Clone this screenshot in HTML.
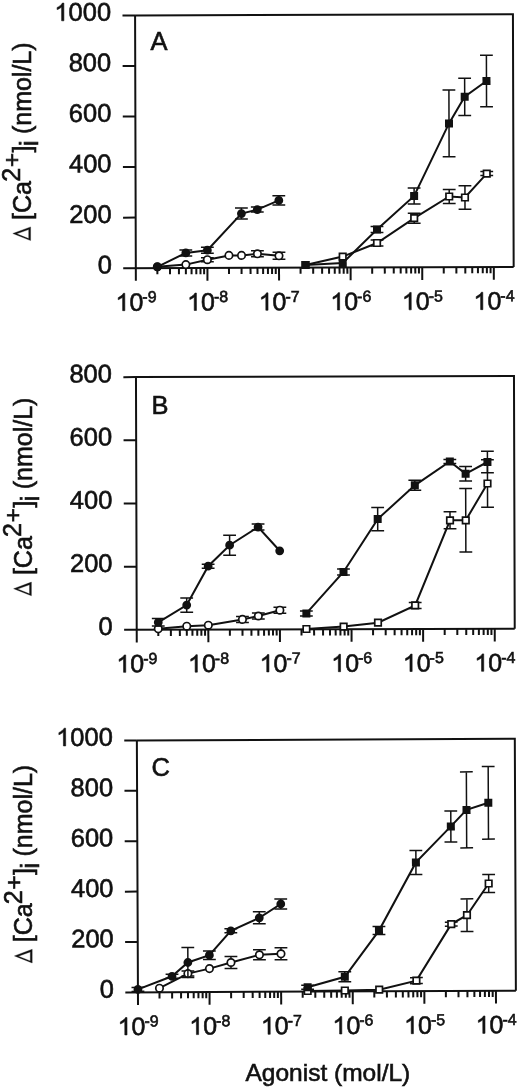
<!DOCTYPE html>
<html><head><meta charset="utf-8"><style>
html,body{margin:0;padding:0;background:#fff;}
svg{display:block;will-change:transform;}
text{font-family:"Liberation Sans",sans-serif;fill:#111;stroke:#111;stroke-width:0.6px;}
.ax path{stroke:#111;stroke-width:2.0;fill:none;}
.ln{stroke:#111;stroke-width:2.0;fill:none;}
.eb{stroke:#111;stroke-width:1.5;fill:none;}
.fm{fill:#111;stroke:none;}
.g1{fill:#111;stroke:#111;}
.om{fill:#fff;stroke:#111;stroke-width:1.7;}
</style></head><body>
<svg width="520" height="1090" viewBox="0 0 520 1090">
<rect width="520" height="1090" fill="#fff"/>
<g transform="rotate(-0.1662 324.38 141.22)">
<g class="ax"><path d="M135.45 14.85H513.3V267.6M135.45 14.85V280.3" /><path d="M122.85 267.6H513.3" /><path d="M122.85 217.05H135.45" /><path d="M122.85 166.5H135.45" /><path d="M122.85 115.95H135.45" /><path d="M122.85 65.4H135.45" /><path d="M122.85 14.85H135.45" /><path d="M157 267.6V273.8" /><path d="M169.61 267.6V273.8" /><path d="M178.56 267.6V273.8" /><path d="M185.5 267.6V273.8" /><path d="M191.17 267.6V273.8" /><path d="M195.96 267.6V273.8" /><path d="M200.11 267.6V273.8" /><path d="M203.77 267.6V273.8" /><path d="M207.05 267.6V280.3" /><path d="M228.6 267.6V273.8" /><path d="M241.21 267.6V273.8" /><path d="M250.16 267.6V273.8" /><path d="M257.1 267.6V273.8" /><path d="M262.77 267.6V273.8" /><path d="M267.56 267.6V273.8" /><path d="M271.71 267.6V273.8" /><path d="M275.37 267.6V273.8" /><path d="M278.65 267.6V280.3" /><path d="M300.2 267.6V273.8" /><path d="M312.81 267.6V273.8" /><path d="M321.76 267.6V273.8" /><path d="M328.7 267.6V273.8" /><path d="M334.37 267.6V273.8" /><path d="M339.16 267.6V273.8" /><path d="M343.31 267.6V273.8" /><path d="M346.97 267.6V273.8" /><path d="M350.25 267.6V280.3" /><path d="M371.8 267.6V273.8" /><path d="M384.41 267.6V273.8" /><path d="M393.36 267.6V273.8" /><path d="M400.3 267.6V273.8" /><path d="M405.97 267.6V273.8" /><path d="M410.76 267.6V273.8" /><path d="M414.91 267.6V273.8" /><path d="M418.57 267.6V273.8" /><path d="M421.85 267.6V280.3" /><path d="M443.4 267.6V273.8" /><path d="M456.01 267.6V273.8" /><path d="M464.96 267.6V273.8" /><path d="M471.9 267.6V273.8" /><path d="M477.57 267.6V273.8" /><path d="M482.36 267.6V273.8" /><path d="M486.51 267.6V273.8" /><path d="M490.17 267.6V273.8" /><path d="M493.45 267.6V280.3" /></g>
<g class="tx"><text x="111.45" y="272.8" text-anchor="end" font-size="25.5">0</text><text x="111.45" y="222.25" text-anchor="end" font-size="25.5">200</text><text x="111.45" y="171.7" text-anchor="end" font-size="25.5">400</text><text x="111.45" y="121.15" text-anchor="end" font-size="25.5">600</text><text x="111.45" y="70.6" text-anchor="end" font-size="25.5">800</text><path d="M763 0L583 0L583 1147Q518 1085 412 1023Q306 961 222 930L222 1104Q373 1175 486 1276Q599 1377 646 1472L763 1472Z" transform="translate(54.74 20.05) scale(0.01245 -0.01205)" class="g1" style="stroke-width:48.2"/><text x="68.92" y="20.05" font-size="25.5">000</text><path d="M763 0L583 0L583 1147Q518 1085 412 1023Q306 961 222 930L222 1104Q373 1175 486 1276Q599 1377 646 1472L763 1472Z" transform="translate(115.04 310.1) scale(0.01221 -0.01182)" class="g1" style="stroke-width:49.2"/><text x="128.94" y="310.1" font-size="25">0<tspan dx="-1" dy="-8.3" font-size="16">-9</tspan></text><path d="M763 0L583 0L583 1147Q518 1085 412 1023Q306 961 222 930L222 1104Q373 1175 486 1276Q599 1377 646 1472L763 1472Z" transform="translate(186.64 310.1) scale(0.01221 -0.01182)" class="g1" style="stroke-width:49.2"/><text x="200.54" y="310.1" font-size="25">0<tspan dx="-1" dy="-8.3" font-size="16">-8</tspan></text><path d="M763 0L583 0L583 1147Q518 1085 412 1023Q306 961 222 930L222 1104Q373 1175 486 1276Q599 1377 646 1472L763 1472Z" transform="translate(258.24 310.1) scale(0.01221 -0.01182)" class="g1" style="stroke-width:49.2"/><text x="272.14" y="310.1" font-size="25">0<tspan dx="-1" dy="-8.3" font-size="16">-7</tspan></text><path d="M763 0L583 0L583 1147Q518 1085 412 1023Q306 961 222 930L222 1104Q373 1175 486 1276Q599 1377 646 1472L763 1472Z" transform="translate(329.84 310.1) scale(0.01221 -0.01182)" class="g1" style="stroke-width:49.2"/><text x="343.74" y="310.1" font-size="25">0<tspan dx="-1" dy="-8.3" font-size="16">-6</tspan></text><path d="M763 0L583 0L583 1147Q518 1085 412 1023Q306 961 222 930L222 1104Q373 1175 486 1276Q599 1377 646 1472L763 1472Z" transform="translate(401.44 310.1) scale(0.01221 -0.01182)" class="g1" style="stroke-width:49.2"/><text x="415.34" y="310.1" font-size="25">0<tspan dx="-1" dy="-8.3" font-size="16">-5</tspan></text><path d="M763 0L583 0L583 1147Q518 1085 412 1023Q306 961 222 930L222 1104Q373 1175 486 1276Q599 1377 646 1472L763 1472Z" transform="translate(473.04 310.1) scale(0.01221 -0.01182)" class="g1" style="stroke-width:49.2"/><text x="486.94" y="310.1" font-size="25">0<tspan dx="-1" dy="-8.3" font-size="16">-4</tspan></text></g>
<g><path d="M157 266.31 L185.5 252.5 L207.05 249.86 L241.2 213.36 L257.1 209.4 L278.65 200.27" class="ln"/><path d="M157 266.31 L185.5 264.2 L207.05 259.36 L228.6 255.12 L241.2 255.16 L257.1 253.6 L278.65 255.67" class="ln"/><path d="M305.14 264.94 L342.37 263.05 L376.74 229.65 L413.97 196.16 L449.06 123.76 L464.81 97.21 L486.65 81.47" class="ln"/><path d="M305.14 264.94 L342.37 256.65 L376.74 243.15 L413.97 218.46 L449.06 196.86 L464.81 197.91 L486.65 174.07" class="ln"/><path d="M207.05 257.36V261.36M200.65 257.36h12.8M200.65 261.36h12.8" class="eb"/><path d="M257.1 250.6V256.6M250.7 250.6h12.8M250.7 256.6h12.8" class="eb"/><path d="M278.65 252.17V259.17M272.25 252.17h12.8M272.25 259.17h12.8" class="eb"/><circle cx="157" cy="266.31" r="3.7" class="om"/><circle cx="185.5" cy="264.2" r="3.7" class="om"/><circle cx="207.05" cy="259.36" r="3.7" class="om"/><circle cx="228.6" cy="255.12" r="3.7" class="om"/><circle cx="241.2" cy="255.16" r="3.7" class="om"/><circle cx="257.1" cy="253.6" r="3.7" class="om"/><circle cx="278.65" cy="255.67" r="3.7" class="om"/><path d="M376.74 240.15V246.15M370.34 240.15h12.8M370.34 246.15h12.8" class="eb"/><path d="M413.97 213.46V223.46M407.57 213.46h12.8M407.57 223.46h12.8" class="eb"/><path d="M449.06 189.96V203.76M442.66 189.96h12.8M442.66 203.76h12.8" class="eb"/><path d="M464.81 186.21V209.61M458.41 186.21h12.8M458.41 209.61h12.8" class="eb"/><path d="M486.65 172.07V176.07M480.25 172.07h12.8M480.25 176.07h12.8" class="eb"/><rect x="301.89" y="261.69" width="6.5" height="6.5" class="om"/><rect x="339.12" y="253.4" width="6.5" height="6.5" class="om"/><rect x="373.49" y="239.9" width="6.5" height="6.5" class="om"/><rect x="410.72" y="215.21" width="6.5" height="6.5" class="om"/><rect x="445.81" y="193.61" width="6.5" height="6.5" class="om"/><rect x="461.56" y="194.66" width="6.5" height="6.5" class="om"/><rect x="483.4" y="170.82" width="6.5" height="6.5" class="om"/><path d="M185.5 249.5V255.5M179.1 249.5h12.8M179.1 255.5h12.8" class="eb"/><path d="M207.05 246.86V252.86M200.65 246.86h12.8M200.65 252.86h12.8" class="eb"/><path d="M241.2 207.86V218.86M234.8 207.86h12.8M234.8 218.86h12.8" class="eb"/><path d="M257.1 206.9V211.9M250.7 206.9h12.8M250.7 211.9h12.8" class="eb"/><path d="M278.65 195.57V204.97M272.25 195.57h12.8M272.25 204.97h12.8" class="eb"/><circle cx="157" cy="266.31" r="4.4" class="fm"/><circle cx="185.5" cy="252.5" r="4.4" class="fm"/><circle cx="207.05" cy="249.86" r="4.4" class="fm"/><circle cx="241.2" cy="213.36" r="4.4" class="fm"/><circle cx="257.1" cy="209.4" r="4.4" class="fm"/><circle cx="278.65" cy="200.27" r="4.4" class="fm"/><path d="M376.74 226.65V232.65M370.34 226.65h12.8M370.34 232.65h12.8" class="eb"/><path d="M413.97 188.16V204.16M407.57 188.16h12.8M407.57 204.16h12.8" class="eb"/><path d="M449.06 90.36V157.16M442.66 90.36h12.8M442.66 157.16h12.8" class="eb"/><path d="M464.81 78.61V115.81M458.41 78.61h12.8M458.41 115.81h12.8" class="eb"/><path d="M486.65 55.62V107.32M480.25 55.62h12.8M480.25 107.32h12.8" class="eb"/><rect x="301.14" y="260.94" width="8" height="8" class="fm"/><rect x="338.37" y="259.05" width="8" height="8" class="fm"/><rect x="372.74" y="225.65" width="8" height="8" class="fm"/><rect x="409.97" y="192.16" width="8" height="8" class="fm"/><rect x="445.06" y="119.76" width="8" height="8" class="fm"/><rect x="460.81" y="93.21" width="8" height="8" class="fm"/><rect x="482.65" y="77.47" width="8" height="8" class="fm"/></g>
</g>
<g class="tx"><text x="150.4" y="50.4" font-size="25.5">A</text><text transform="rotate(-90)" y="30.8" font-size="25"><tspan x="-219.9">[Ca</tspan><tspan x="-181.8" y="20.2">2</tspan><tspan x="-167" y="20.2" font-size="24">+</tspan><tspan x="-152.5" y="30.8">]</tspan><tspan x="-146" y="37.8">i</tspan><tspan x="-134.1" y="30.8">(nmol/L)</tspan></text><path transform="translate(0 0)" fill-rule="evenodd" class="g1" style="stroke-width:0.3" d="M12.8 233.5L30.6 226.9L30.6 240.6ZM16.8 233.85L28.7 238.55L28.7 229.55Z"/></g>
<g transform="rotate(-0.1719 325.35 502.9)">
<g class="ax"><path d="M136.35 376.55H514.35V629.25M136.35 376.55V641.95" /><path d="M123.75 629.25H514.35" /><path d="M123.75 566.08H136.35" /><path d="M123.75 502.9H136.35" /><path d="M123.75 439.73H136.35" /><path d="M123.75 376.55H136.35" /><path d="M157.9 629.25V635.45" /><path d="M170.51 629.25V635.45" /><path d="M179.46 629.25V635.45" /><path d="M186.4 629.25V635.45" /><path d="M192.07 629.25V635.45" /><path d="M196.86 629.25V635.45" /><path d="M201.01 629.25V635.45" /><path d="M204.67 629.25V635.45" /><path d="M207.95 629.25V641.95" /><path d="M229.5 629.25V635.45" /><path d="M242.11 629.25V635.45" /><path d="M251.06 629.25V635.45" /><path d="M258 629.25V635.45" /><path d="M263.67 629.25V635.45" /><path d="M268.46 629.25V635.45" /><path d="M272.61 629.25V635.45" /><path d="M276.27 629.25V635.45" /><path d="M279.55 629.25V641.95" /><path d="M301.1 629.25V635.45" /><path d="M313.71 629.25V635.45" /><path d="M322.66 629.25V635.45" /><path d="M329.6 629.25V635.45" /><path d="M335.27 629.25V635.45" /><path d="M340.06 629.25V635.45" /><path d="M344.21 629.25V635.45" /><path d="M347.87 629.25V635.45" /><path d="M351.15 629.25V641.95" /><path d="M372.7 629.25V635.45" /><path d="M385.31 629.25V635.45" /><path d="M394.26 629.25V635.45" /><path d="M401.2 629.25V635.45" /><path d="M406.87 629.25V635.45" /><path d="M411.66 629.25V635.45" /><path d="M415.81 629.25V635.45" /><path d="M419.47 629.25V635.45" /><path d="M422.75 629.25V641.95" /><path d="M444.3 629.25V635.45" /><path d="M456.91 629.25V635.45" /><path d="M465.86 629.25V635.45" /><path d="M472.8 629.25V635.45" /><path d="M478.47 629.25V635.45" /><path d="M483.26 629.25V635.45" /><path d="M487.41 629.25V635.45" /><path d="M491.07 629.25V635.45" /><path d="M494.35 629.25V641.95" /></g>
<g class="tx"><text x="112.35" y="634.45" text-anchor="end" font-size="25.5">0</text><text x="112.35" y="571.28" text-anchor="end" font-size="25.5">200</text><text x="112.35" y="508.1" text-anchor="end" font-size="25.5">400</text><text x="112.35" y="444.93" text-anchor="end" font-size="25.5">600</text><text x="112.35" y="381.75" text-anchor="end" font-size="25.5">800</text><path d="M763 0L583 0L583 1147Q518 1085 412 1023Q306 961 222 930L222 1104Q373 1175 486 1276Q599 1377 646 1472L763 1472Z" transform="translate(115.94 671.75) scale(0.01221 -0.01182)" class="g1" style="stroke-width:49.2"/><text x="129.84" y="671.75" font-size="25">0<tspan dx="-1" dy="-8.3" font-size="16">-9</tspan></text><path d="M763 0L583 0L583 1147Q518 1085 412 1023Q306 961 222 930L222 1104Q373 1175 486 1276Q599 1377 646 1472L763 1472Z" transform="translate(187.54 671.75) scale(0.01221 -0.01182)" class="g1" style="stroke-width:49.2"/><text x="201.44" y="671.75" font-size="25">0<tspan dx="-1" dy="-8.3" font-size="16">-8</tspan></text><path d="M763 0L583 0L583 1147Q518 1085 412 1023Q306 961 222 930L222 1104Q373 1175 486 1276Q599 1377 646 1472L763 1472Z" transform="translate(259.14 671.75) scale(0.01221 -0.01182)" class="g1" style="stroke-width:49.2"/><text x="273.04" y="671.75" font-size="25">0<tspan dx="-1" dy="-8.3" font-size="16">-7</tspan></text><path d="M763 0L583 0L583 1147Q518 1085 412 1023Q306 961 222 930L222 1104Q373 1175 486 1276Q599 1377 646 1472L763 1472Z" transform="translate(330.74 671.75) scale(0.01221 -0.01182)" class="g1" style="stroke-width:49.2"/><text x="344.64" y="671.75" font-size="25">0<tspan dx="-1" dy="-8.3" font-size="16">-6</tspan></text><path d="M763 0L583 0L583 1147Q518 1085 412 1023Q306 961 222 930L222 1104Q373 1175 486 1276Q599 1377 646 1472L763 1472Z" transform="translate(402.34 671.75) scale(0.01221 -0.01182)" class="g1" style="stroke-width:49.2"/><text x="416.24" y="671.75" font-size="25">0<tspan dx="-1" dy="-8.3" font-size="16">-5</tspan></text><path d="M763 0L583 0L583 1147Q518 1085 412 1023Q306 961 222 930L222 1104Q373 1175 486 1276Q599 1377 646 1472L763 1472Z" transform="translate(473.94 671.75) scale(0.01221 -0.01182)" class="g1" style="stroke-width:49.2"/><text x="487.84" y="671.75" font-size="25">0<tspan dx="-1" dy="-8.3" font-size="16">-4</tspan></text></g>
<g><path d="M157.9 621.8 L186.4 604.68 L207.95 565.85 L229.5 544.91 L258 526.9 L279.55 550.66" class="ln"/><path d="M157.9 628.3 L186.4 625.78 L207.95 624.85 L242.1 619.15 L258 615.8 L279.55 610.06" class="ln"/><path d="M306.04 613.34 L343.27 572.05 L377.64 519.26 L414.87 485.57 L449.96 461.87 L465.71 474.22 L487.55 462.49" class="ln"/><path d="M306.04 628.94 L343.27 626.65 L377.64 622.86 L414.87 605.67 L449.96 520.67 L465.71 520.72 L487.55 483.99" class="ln"/><path d="M242.1 616.15V622.15M235.7 616.15h12.8M235.7 622.15h12.8" class="eb"/><path d="M258 612.8V618.8M251.6 612.8h12.8M251.6 618.8h12.8" class="eb"/><path d="M279.55 607.06V613.06M273.15 607.06h12.8M273.15 613.06h12.8" class="eb"/><circle cx="157.9" cy="628.3" r="3.7" class="om"/><circle cx="186.4" cy="625.78" r="3.7" class="om"/><circle cx="207.95" cy="624.85" r="3.7" class="om"/><circle cx="242.1" cy="619.15" r="3.7" class="om"/><circle cx="258" cy="615.8" r="3.7" class="om"/><circle cx="279.55" cy="610.06" r="3.7" class="om"/><path d="M414.87 602.67V608.67M408.47 602.67h12.8M408.47 608.67h12.8" class="eb"/><path d="M449.96 512.17V529.17M443.56 512.17h12.8M443.56 529.17h12.8" class="eb"/><path d="M465.71 488.92V552.52M459.31 488.92h12.8M459.31 552.52h12.8" class="eb"/><path d="M487.55 460.29V507.69M481.15 460.29h12.8M481.15 507.69h12.8" class="eb"/><rect x="302.79" y="625.69" width="6.5" height="6.5" class="om"/><rect x="340.02" y="623.4" width="6.5" height="6.5" class="om"/><rect x="374.39" y="619.61" width="6.5" height="6.5" class="om"/><rect x="411.62" y="602.42" width="6.5" height="6.5" class="om"/><rect x="446.71" y="517.42" width="6.5" height="6.5" class="om"/><rect x="462.46" y="517.47" width="6.5" height="6.5" class="om"/><rect x="484.3" y="480.74" width="6.5" height="6.5" class="om"/><path d="M157.9 618V625.6M151.5 618h12.8M151.5 625.6h12.8" class="eb"/><path d="M186.4 597.48V611.88M180 597.48h12.8M180 611.88h12.8" class="eb"/><path d="M207.95 563.85V567.85M201.55 563.85h12.8M201.55 567.85h12.8" class="eb"/><path d="M229.5 534.91V554.91M223.1 534.91h12.8M223.1 554.91h12.8" class="eb"/><path d="M258 523.9V529.9M251.6 523.9h12.8M251.6 529.9h12.8" class="eb"/><circle cx="157.9" cy="621.8" r="4.4" class="fm"/><circle cx="186.4" cy="604.68" r="4.4" class="fm"/><circle cx="207.95" cy="565.85" r="4.4" class="fm"/><circle cx="229.5" cy="544.91" r="4.4" class="fm"/><circle cx="258" cy="526.9" r="4.4" class="fm"/><circle cx="279.55" cy="550.66" r="4.4" class="fm"/><path d="M306.04 610.84V615.84M299.64 610.84h12.8M299.64 615.84h12.8" class="eb"/><path d="M343.27 569.05V575.05M336.87 569.05h12.8M336.87 575.05h12.8" class="eb"/><path d="M377.64 507.56V530.96M371.24 507.56h12.8M371.24 530.96h12.8" class="eb"/><path d="M414.87 480.57V490.57M408.47 480.57h12.8M408.47 490.57h12.8" class="eb"/><path d="M449.96 459.87V463.87M443.56 459.87h12.8M443.56 463.87h12.8" class="eb"/><path d="M465.71 466.92V481.52M459.31 466.92h12.8M459.31 481.52h12.8" class="eb"/><path d="M487.55 451.69V473.29M481.15 451.69h12.8M481.15 473.29h12.8" class="eb"/><rect x="302.04" y="609.34" width="8" height="8" class="fm"/><rect x="339.27" y="568.05" width="8" height="8" class="fm"/><rect x="373.64" y="515.26" width="8" height="8" class="fm"/><rect x="410.87" y="481.57" width="8" height="8" class="fm"/><rect x="445.96" y="457.87" width="8" height="8" class="fm"/><rect x="461.71" y="470.22" width="8" height="8" class="fm"/><rect x="483.55" y="458.49" width="8" height="8" class="fm"/></g>
</g>
<g class="tx"><text x="151.5" y="413.5" font-size="25.5">B</text><text transform="rotate(-90)" y="31.6" font-size="25"><tspan x="-575.1">[Ca</tspan><tspan x="-537" y="21">2</tspan><tspan x="-522.2" y="21" font-size="24">+</tspan><tspan x="-507.7" y="31.6">]</tspan><tspan x="-501.2" y="38.6">i</tspan><tspan x="-489.3" y="31.6">(nmol/L)</tspan></text><path transform="translate(0.8 355.2)" fill-rule="evenodd" class="g1" style="stroke-width:0.3" d="M12.8 233.5L30.6 226.9L30.6 240.6ZM16.8 233.85L28.7 238.55L28.7 229.55Z"/></g>
<g transform="rotate(-0.2464 326.38 865.58)">
<g class="ax"><path d="M137.4 739.6H515.35V991.55M137.4 739.6V1004.25" /><path d="M124.8 991.55H515.35" /><path d="M124.8 941.16H137.4" /><path d="M124.8 890.77H137.4" /><path d="M124.8 840.38H137.4" /><path d="M124.8 789.99H137.4" /><path d="M124.8 739.6H137.4" /><path d="M158.95 991.55V997.75" /><path d="M171.56 991.55V997.75" /><path d="M180.51 991.55V997.75" /><path d="M187.45 991.55V997.75" /><path d="M193.12 991.55V997.75" /><path d="M197.91 991.55V997.75" /><path d="M202.06 991.55V997.75" /><path d="M205.72 991.55V997.75" /><path d="M209 991.55V1004.25" /><path d="M230.55 991.55V997.75" /><path d="M243.16 991.55V997.75" /><path d="M252.11 991.55V997.75" /><path d="M259.05 991.55V997.75" /><path d="M264.72 991.55V997.75" /><path d="M269.51 991.55V997.75" /><path d="M273.66 991.55V997.75" /><path d="M277.32 991.55V997.75" /><path d="M280.6 991.55V1004.25" /><path d="M302.15 991.55V997.75" /><path d="M314.76 991.55V997.75" /><path d="M323.71 991.55V997.75" /><path d="M330.65 991.55V997.75" /><path d="M336.32 991.55V997.75" /><path d="M341.11 991.55V997.75" /><path d="M345.26 991.55V997.75" /><path d="M348.92 991.55V997.75" /><path d="M352.2 991.55V1004.25" /><path d="M373.75 991.55V997.75" /><path d="M386.36 991.55V997.75" /><path d="M395.31 991.55V997.75" /><path d="M402.25 991.55V997.75" /><path d="M407.92 991.55V997.75" /><path d="M412.71 991.55V997.75" /><path d="M416.86 991.55V997.75" /><path d="M420.52 991.55V997.75" /><path d="M423.8 991.55V1004.25" /><path d="M445.35 991.55V997.75" /><path d="M457.96 991.55V997.75" /><path d="M466.91 991.55V997.75" /><path d="M473.85 991.55V997.75" /><path d="M479.52 991.55V997.75" /><path d="M484.31 991.55V997.75" /><path d="M488.46 991.55V997.75" /><path d="M492.12 991.55V997.75" /><path d="M495.4 991.55V1004.25" /></g>
<g class="tx"><text x="113.4" y="996.75" text-anchor="end" font-size="25.5">0</text><text x="113.4" y="946.36" text-anchor="end" font-size="25.5">200</text><text x="113.4" y="895.97" text-anchor="end" font-size="25.5">400</text><text x="113.4" y="845.58" text-anchor="end" font-size="25.5">600</text><text x="113.4" y="795.19" text-anchor="end" font-size="25.5">800</text><path d="M763 0L583 0L583 1147Q518 1085 412 1023Q306 961 222 930L222 1104Q373 1175 486 1276Q599 1377 646 1472L763 1472Z" transform="translate(56.69 744.8) scale(0.01245 -0.01205)" class="g1" style="stroke-width:48.2"/><text x="70.87" y="744.8" font-size="25.5">000</text><path d="M763 0L583 0L583 1147Q518 1085 412 1023Q306 961 222 930L222 1104Q373 1175 486 1276Q599 1377 646 1472L763 1472Z" transform="translate(116.99 1034.05) scale(0.01221 -0.01182)" class="g1" style="stroke-width:49.2"/><text x="130.89" y="1034.05" font-size="25">0<tspan dx="-1" dy="-8.3" font-size="16">-9</tspan></text><path d="M763 0L583 0L583 1147Q518 1085 412 1023Q306 961 222 930L222 1104Q373 1175 486 1276Q599 1377 646 1472L763 1472Z" transform="translate(188.59 1034.05) scale(0.01221 -0.01182)" class="g1" style="stroke-width:49.2"/><text x="202.49" y="1034.05" font-size="25">0<tspan dx="-1" dy="-8.3" font-size="16">-8</tspan></text><path d="M763 0L583 0L583 1147Q518 1085 412 1023Q306 961 222 930L222 1104Q373 1175 486 1276Q599 1377 646 1472L763 1472Z" transform="translate(260.19 1034.05) scale(0.01221 -0.01182)" class="g1" style="stroke-width:49.2"/><text x="274.09" y="1034.05" font-size="25">0<tspan dx="-1" dy="-8.3" font-size="16">-7</tspan></text><path d="M763 0L583 0L583 1147Q518 1085 412 1023Q306 961 222 930L222 1104Q373 1175 486 1276Q599 1377 646 1472L763 1472Z" transform="translate(331.79 1034.05) scale(0.01221 -0.01182)" class="g1" style="stroke-width:49.2"/><text x="345.69" y="1034.05" font-size="25">0<tspan dx="-1" dy="-8.3" font-size="16">-6</tspan></text><path d="M763 0L583 0L583 1147Q518 1085 412 1023Q306 961 222 930L222 1104Q373 1175 486 1276Q599 1377 646 1472L763 1472Z" transform="translate(403.39 1034.05) scale(0.01221 -0.01182)" class="g1" style="stroke-width:49.2"/><text x="417.29" y="1034.05" font-size="25">0<tspan dx="-1" dy="-8.3" font-size="16">-5</tspan></text><path d="M763 0L583 0L583 1147Q518 1085 412 1023Q306 961 222 930L222 1104Q373 1175 486 1276Q599 1377 646 1472L763 1472Z" transform="translate(474.99 1034.05) scale(0.01221 -0.01182)" class="g1" style="stroke-width:49.2"/><text x="488.89" y="1034.05" font-size="25">0<tspan dx="-1" dy="-8.3" font-size="16">-4</tspan></text></g>
<g><path d="M137.4 988.59 L171.55 975.63 L187.45 961.9 L209 954.7 L230.55 930.39 L259.05 917.51 L280.6 903.8" class="ln"/><path d="M158.95 987.48 L187.45 973 L209 968.1 L230.55 962.09 L259.05 954.51 L280.6 953.6" class="ln"/><path d="M307.09 987.12 L344.32 976.88 L378.69 930.82 L415.92 862.79 L451.01 826.94 L466.76 810.5 L488.6 803.5" class="ln"/><path d="M307.09 990.92 L344.32 990.58 L378.69 989.92 L415.92 980.99 L451.01 924.64 L466.76 915.8 L488.6 884.2" class="ln"/><path d="M187.45 970.5V975.5M181.05 970.5h12.8M181.05 975.5h12.8" class="eb"/><path d="M230.55 956.09V968.09M224.15 956.09h12.8M224.15 968.09h12.8" class="eb"/><path d="M259.05 949.51V959.51M252.65 949.51h12.8M252.65 959.51h12.8" class="eb"/><path d="M280.6 947.6V959.6M274.2 947.6h12.8M274.2 959.6h12.8" class="eb"/><circle cx="158.95" cy="987.48" r="3.7" class="om"/><circle cx="187.45" cy="973" r="3.7" class="om"/><circle cx="209" cy="968.1" r="3.7" class="om"/><circle cx="230.55" cy="962.09" r="3.7" class="om"/><circle cx="259.05" cy="954.51" r="3.7" class="om"/><circle cx="280.6" cy="953.6" r="3.7" class="om"/><path d="M415.92 977.99V983.99M409.52 977.99h12.8M409.52 983.99h12.8" class="eb"/><path d="M451.01 922.64V926.64M444.61 922.64h12.8M444.61 926.64h12.8" class="eb"/><path d="M466.76 899.5V932.1M460.36 899.5h12.8M460.36 932.1h12.8" class="eb"/><path d="M488.6 875.2V893.2M482.2 875.2h12.8M482.2 893.2h12.8" class="eb"/><rect x="303.84" y="987.67" width="6.5" height="6.5" class="om"/><rect x="341.07" y="987.33" width="6.5" height="6.5" class="om"/><rect x="375.44" y="986.67" width="6.5" height="6.5" class="om"/><rect x="412.67" y="977.74" width="6.5" height="6.5" class="om"/><rect x="447.76" y="921.39" width="6.5" height="6.5" class="om"/><rect x="463.51" y="912.55" width="6.5" height="6.5" class="om"/><rect x="485.35" y="880.95" width="6.5" height="6.5" class="om"/><path d="M137.4 986.59V990.59M131 986.59h12.8M131 990.59h12.8" class="eb"/><path d="M171.55 973.63V977.63M165.15 973.63h12.8M165.15 977.63h12.8" class="eb"/><path d="M187.45 946.9V976.9M181.05 946.9h12.8M181.05 976.9h12.8" class="eb"/><path d="M209 950.4V959M202.6 950.4h12.8M202.6 959h12.8" class="eb"/><path d="M230.55 928.39V932.39M224.15 928.39h12.8M224.15 932.39h12.8" class="eb"/><path d="M259.05 911.51V923.51M252.65 911.51h12.8M252.65 923.51h12.8" class="eb"/><path d="M280.6 898.8V908.8M274.2 898.8h12.8M274.2 908.8h12.8" class="eb"/><circle cx="137.4" cy="988.59" r="4.4" class="fm"/><circle cx="171.55" cy="975.63" r="4.4" class="fm"/><circle cx="187.45" cy="961.9" r="4.4" class="fm"/><circle cx="209" cy="954.7" r="4.4" class="fm"/><circle cx="230.55" cy="930.39" r="4.4" class="fm"/><circle cx="259.05" cy="917.51" r="4.4" class="fm"/><circle cx="280.6" cy="903.8" r="4.4" class="fm"/><path d="M307.09 985.12V989.12M300.69 985.12h12.8M300.69 989.12h12.8" class="eb"/><path d="M344.32 971.88V981.88M337.92 971.88h12.8M337.92 981.88h12.8" class="eb"/><path d="M378.69 926.82V934.82M372.29 926.82h12.8M372.29 934.82h12.8" class="eb"/><path d="M415.92 850.79V874.79M409.52 850.79h12.8M409.52 874.79h12.8" class="eb"/><path d="M451.01 811.44V842.44M444.61 811.44h12.8M444.61 842.44h12.8" class="eb"/><path d="M466.76 772.5V848.5M460.36 772.5h12.8M460.36 848.5h12.8" class="eb"/><path d="M488.6 767.2V839.8M482.2 767.2h12.8M482.2 839.8h12.8" class="eb"/><rect x="303.09" y="983.12" width="8" height="8" class="fm"/><rect x="340.32" y="972.88" width="8" height="8" class="fm"/><rect x="374.69" y="926.82" width="8" height="8" class="fm"/><rect x="411.92" y="858.79" width="8" height="8" class="fm"/><rect x="447.01" y="822.94" width="8" height="8" class="fm"/><rect x="462.76" y="806.5" width="8" height="8" class="fm"/><rect x="484.6" y="799.5" width="8" height="8" class="fm"/></g>
</g>
<g class="tx"><text x="151.5" y="775.8" font-size="25.5">C</text><text transform="rotate(-90)" y="32.4" font-size="25"><tspan x="-942.3">[Ca</tspan><tspan x="-904.2" y="21.8">2</tspan><tspan x="-889.4" y="21.8" font-size="24">+</tspan><tspan x="-874.9" y="32.4">]</tspan><tspan x="-868.4" y="39.4">i</tspan><tspan x="-856.5" y="32.4">(nmol/L)</tspan></text><path transform="translate(1.6 722.4)" fill-rule="evenodd" class="g1" style="stroke-width:0.3" d="M12.8 233.5L30.6 226.9L30.6 240.6ZM16.8 233.85L28.7 238.55L28.7 229.55Z"/></g>
<text x="327.9" y="1080.5" text-anchor="middle" font-size="24.5">Agonist (mol/L)</text>
</svg>
</body></html>
